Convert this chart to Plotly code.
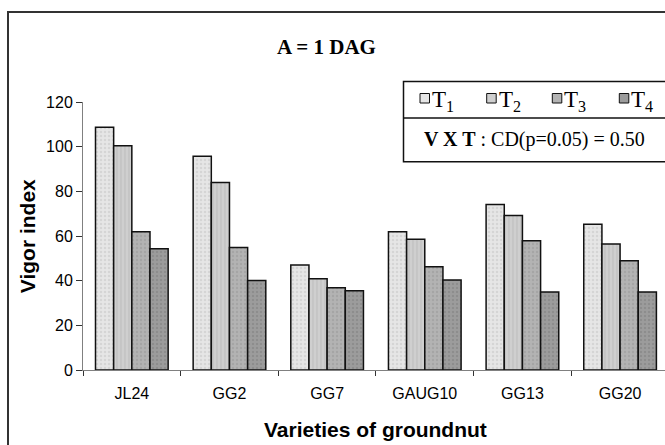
import plotly.graph_objects as go

# ---- data ----
varieties = ["JL24", "GG2", "GG7", "GAUG10", "GG13", "GG20"]
t1 = [108.7, 95.7, 47.0, 61.9, 74.1, 65.3]
t2 = [100.4, 84.0, 40.9, 58.5, 69.2, 56.4]
t3 = [61.9, 54.9, 36.8, 46.2, 57.9, 48.9]
t4 = [54.3, 40.1, 35.5, 40.3, 34.9, 34.9]
series_names = ["T1", "T2", "T3", "T4"]
y_ticks = [0, 20, 40, 60, 80, 100, 120]

# ---- layout geometry (pixels) ----
W, H = 665, 445
L, R, T, B = 83, 0, 102, 75
PW, PH = W - L - R, H - T - B


def px(x):
    return (x - L) / PW


def py(y):
    return (H - B - y) / PH


fills = ["#e6e6e6", "#cfcfcf", "#b3b3b3", "#9c9c9c"]
fgs = ["#c4c4c4", "#b0b0b0", "#959595", "#7e7e7e"]
shapes_pat = [".", "|", ".", "."]

fig = go.Figure()
for name, vals, fc, fg, sh in zip(series_names, [t1, t2, t3, t4], fills, fgs, shapes_pat):
    fig.add_trace(go.Bar(
        x=varieties, y=vals, name=name,
        marker=dict(color=fc, line=dict(color="#111111", width=1.5),
                    pattern=dict(shape=sh, fgcolor=fg, bgcolor=fc, size=4, solidity=0.3)),
        showlegend=False,
    ))

serif = "Liberation Serif"
sans = "Liberation Sans"

annotations = [
    dict(text="<b>A = 1 DAG</b>", x=px(326), y=py(46.5), xref="paper", yref="paper",
         xanchor="center", yanchor="middle", showarrow=False,
         font=dict(family=serif, size=21, color="black")),
    dict(text="<b>Vigor index</b>", x=px(27.5), y=py(236.7), xref="paper", yref="paper",
         xanchor="center", yanchor="middle", showarrow=False, textangle=-90,
         font=dict(family=sans, size=21, color="black")),
    dict(text="<b>Varieties of groundnut</b>", x=px(375), y=py(429), xref="paper", yref="paper",
         xanchor="center", yanchor="middle", showarrow=False,
         font=dict(family=sans, size=21, color="black")),
    dict(text="<b>V X T</b> : CD(p=0.05) = 0.50", x=px(534), y=py(139), xref="paper", yref="paper",
         xanchor="center", yanchor="middle", showarrow=False,
         font=dict(family=serif, size=20, color="black")),
]

shapes = [
    # outer frame
    dict(type="rect", xref="paper", yref="paper", x0=px(8), x1=px(700), y0=py(480), y1=py(12),
         line=dict(color="#333333", width=2), fillcolor="rgba(0,0,0,0)", layer="below"),
    # legend box
    dict(type="rect", xref="paper", yref="paper", x0=px(403.5), x1=px(700), y0=py(161.7), y1=py(81.5),
         line=dict(color="#111111", width=1.5), fillcolor="white"),
    dict(type="line", xref="paper", yref="paper", x0=px(403.5), x1=px(700), y0=py(118), y1=py(118),
         line=dict(color="#111111", width=1.5)),
]

sq_x = [420, 486.7, 552.3, 619.3]
for i, (sx, fc) in enumerate(zip(sq_x, fills)):
    shapes.append(dict(type="rect", xref="paper", yref="paper", x0=px(sx), x1=px(sx + 9.5),
                       y0=py(103), y1=py(93.5), line=dict(color="#111111", width=1), fillcolor=fc))
    annotations.append(dict(text=f"T<sub>{i + 1}</sub>", x=px(sx + 10), y=py(101),
                            xref="paper", yref="paper", xanchor="left", yanchor="middle",
                            showarrow=False, font=dict(family=serif, size=23, color="black")))

fig.update_layout(
    width=W, height=H,
    margin=dict(l=L, r=R, t=T, b=B, pad=0),
    paper_bgcolor="white", plot_bgcolor="white",
    barmode="group", bargap=0.256, bargroupgap=0,
    showlegend=False,
    annotations=annotations, shapes=shapes,
    xaxis=dict(type="category", range=[-0.5, 5.46], showline=True, linecolor="#808080", linewidth=1,
               ticks="outside", tickson="boundaries", ticklen=5, tickcolor="#333333",
               ticklabelstandoff=9,
               showgrid=False, tickfont=dict(family=sans, size=16, color="black")),
    yaxis=dict(range=[0, 120], tickvals=y_ticks, showline=True, linecolor="#808080", linewidth=1,
               ticks="outside", ticklen=6, tickcolor="#333333", showgrid=False, zeroline=False,
               tickfont=dict(family=sans, size=16, color="black")),
)

fig.write_html("out.html")
